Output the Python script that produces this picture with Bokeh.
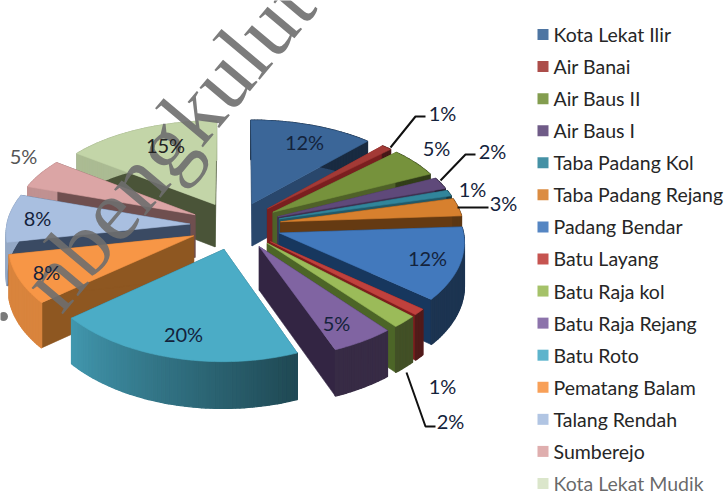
import math
from bokeh.plotting import figure
from bokeh.models import Range1d
from bokeh.core.properties import value
from bokeh.embed import file_html
from bokeh.resources import INLINE

categories = ["Kota Lekat Ilir", "Air Banai", "Air Baus II", "Air Baus I", "Taba Padang Kol",
              "Taba Padang Rejang", "Padang Bendar", "Batu Layang", "Batu Raja kol", "Batu Raja Rejang",
              "Batu Roto", "Pematang Balam", "Talang Rendah", "Sumberejo", "Kota Lekat Mudik"]
percent = [12, 1, 5, 2, 1, 3, 12, 1, 2, 5, 20, 8, 8, 5, 15]
top_colors = ["#3b6698", "#a33a36", "#76923c", "#5f497a", "#31859b", "#d7802e", "#4279bd", "#c0413d",
              "#9bbb59", "#8064a2", "#4bacc6", "#f79646", "#a9bfe0", "#dba5a5", "#c3d5a8"]
wall_colors = ["#29476c", "#7a1f1f", "#4f6128", "#3f3151", "#215968", "#653a12", "#17375e", "#7f1d1d",
               "#4c6527", "#332543", "#2a6274", "#8e5721", "#3a4a63", "#6f4f4f", "#4a5438"]
label_text = ["12%", "1%", "5%", "2%", "1%", "3%", "12%", "1%", "2%", "5%", "20%", "8%", "8%", "5%", "15%"]

# layout of the projection (image pixels)
CX, CY, RX, RY, KX, KY, EXPL, DEPTH = 235, 225, 183, 96, 0.08, 0.10, 0.25, 43


def proj(u, v):
    return CX + RX * u / (1 - KX * v), CY + RY * v / (1 - KY * v)


def depth(v):
    return DEPTH * (1 + 0.07 * v)


def mix(col, f):
    r, g, b = int(col[1:3], 16), int(col[3:5], 16), int(col[5:7], 16)
    return "#%02x%02x%02x" % (int(r * f), int(g * f), int(b * f))


def arc_bright(t):
    return 0.43 + 0.45 * min(1, max(0, (t - 160) / 70))


starts = [sum(percent[:i]) * 3.6 for i in range(len(percent))]
order = sorted(range(len(percent)), key=lambda i: -math.cos(math.radians(starts[i] + percent[i] * 1.8)))
xs, ys, fills, widths = [], [], [], []


def add(px, py, c, w=0.6):
    xs.append(px); ys.append(py); fills.append(c); widths.append(w)


for i in order:
    a0 = starts[i]; a1 = a0 + percent[i] * 3.6
    mid = math.radians((a0 + a1) / 2)
    ou, ov = EXPL * math.sin(mid), -EXPL * math.cos(mid)
    n = max(4, int(percent[i] * 3))
    angs = [a0 + (a1 - a0) * j / n for j in range(n + 1)]
    rim = []
    for t in angs:
        r = math.radians(t)
        u, v = ou + math.sin(r), ov - math.cos(r)
        x, y = proj(u, v)
        rim.append((x, y, y + depth(v), t))
    tx, ty = proj(ou, ov)
    tb = ty + depth(ov)
    # radial walls
    for q in (rim[0], rim[-1]):
        add([tx, q[0], q[0], tx], [ty, q[1], q[2], tb], wall_colors[i])
    # outer wall, in narrow strips for the shading
    for a, b in zip(rim[:-1], rim[1:]):
        add([a[0], b[0], b[0], a[0]], [a[1], b[1], b[2], a[2]],
            mix(top_colors[i], arc_bright((a[3] + b[3]) / 2)), 1.4)
    # top face
    add([tx] + [q[0] for q in rim], [ty] + [q[1] for q in rim], top_colors[i])

p = figure(width=727, height=495, output_backend="svg", toolbar_location=None,
           x_range=Range1d(0, 727), y_range=Range1d(495, 0), min_border=0)
p.axis.visible = False
p.grid.visible = False
p.outline_line_color = None
p.patches(xs, ys, fill_color=fills, line_color=fills, line_width=widths)

# watermark
p.text([38], [296], text=["nbengkulut"], text_font=value("Liberation Serif"), text_font_size="89px",
       text_color="#6e6e6e", text_alpha=0.9, angle=math.radians(50), text_align="left", text_baseline="alphabetic")
p.scatter([3], [316], marker="circle", size=9, fill_color="#7a7a7a", line_color=None)

# leader lines
leaders = [([390, 415, 425], [147, 116, 116]), ([440, 465, 475], [180, 154, 154]),
           ([457, 488], [207, 207]), ([406, 425, 435], [372, 426, 426])]
p.multi_line([l[0] for l in leaders], [l[1] for l in leaders], line_color="#111111", line_width=2)

# data labels
lab_x = [304, 442, 436, 492, 472, 503, 427, 442, 450, 336, 183, 46, 37, 23, 165]
lab_y = [141, 112, 147, 150, 188, 202, 257, 385, 420, 322, 333, 271, 217, 155, 144]
lab_c = ["#14233c"] * 13 + ["#555555", "#222222"]
p.text(lab_x, lab_y, text=label_text, text_font=value("Lato"), text_font_size="20px", text_color=lab_c,
       text_align="center", text_baseline="middle")

# legend
rows = list(range(len(categories)))
leg_y = [34 + 32.07 * r for r in rows]
p.scatter([542.5] * len(rows), leg_y, marker="square", size=11, fill_color=top_colors, line_color=None,
          fill_alpha=[0.9] * 14 + [0.6])
p.text([553] * len(rows), leg_y, text=categories, text_font=value("Lato"), text_font_size="19.5px",
       text_color="#262626", text_alpha=[1] * 14 + [0.7], text_align="left", text_baseline="middle")

open("out.html", "w").write(file_html(p, INLINE))
